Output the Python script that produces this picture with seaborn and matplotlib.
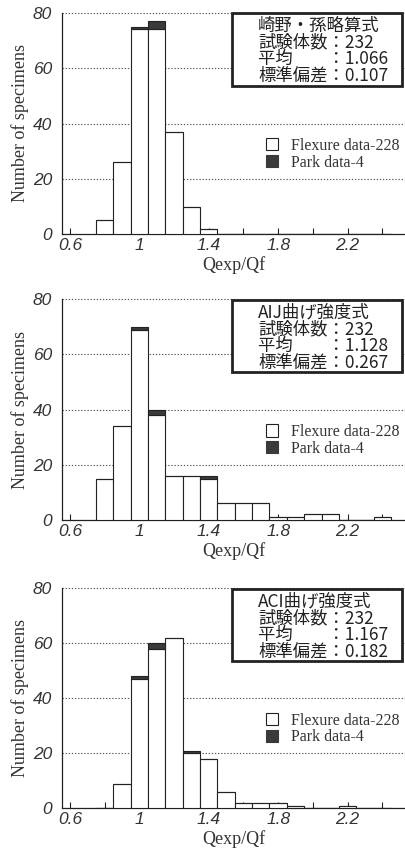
import numpy as np
import pandas as pd
import matplotlib
matplotlib.use('Agg')
import matplotlib.pyplot as plt
import seaborn as sns
from matplotlib.patches import Patch, Rectangle
from matplotlib.ticker import FixedLocator

# bin centres (Qexp/Qf), width 0.1
bin_centers = [0.8, 0.9, 1.0, 1.1, 1.2, 1.3, 1.4, 1.5, 1.6, 1.7, 1.8, 1.9, 2.0, 2.1, 2.2, 2.3, 2.4]

# panel 1: 崎野・孫略算式
flex_1 = [5, 26, 74, 74, 37, 10, 2, 0, 0, 0, 0, 0, 0, 0, 0, 0, 0]
park_1 = [0, 0, 1, 3, 0, 0, 0, 0, 0, 0, 0, 0, 0, 0, 0, 0, 0]
# panel 2: AIJ曲げ強度式
flex_2 = [15, 34, 69, 38, 16, 16, 15, 6, 6, 6, 1, 1, 2, 2, 0, 0, 1]
park_2 = [0, 0, 1, 2, 0, 0, 1, 0, 0, 0, 0, 0, 0, 0, 0, 0, 0]
# panel 3: ACI曲げ強度式
flex_3 = [0, 9, 47, 58, 62, 20, 18, 6, 2, 2, 2, 1, 0, 0, 1, 0, 0]
park_3 = [0, 0, 1, 2, 0, 1, 0, 0, 0, 0, 0, 0, 0, 0, 0, 0, 0]

titles = ['崎野・孫略算式', 'AIJ曲げ強度式', 'ACI曲げ強度式']
n_specimens = [232, 232, 232]
means = ['1.066', '1.128', '1.167']
stds = ['0.107', '0.267', '0.182']
legend_labels = ['Flexure data-228', 'Park data-4']

sns.set_style('ticks')
plt.rcParams['font.family'] = ['Liberation Serif', 'DejaVu Serif']

INK = '#222222'
DARK = '#3a3a3a'
SERIF = 'Liberation Serif'
TICKFONT = dict(family='Liberation Sans', style='italic', size=12.5)
CJK = ['Noto Sans CJK JP', 'DejaVu Sans']

fig = plt.figure(figsize=(4.06, 8.48), dpi=100)
W, H = 406, 848
# (top px of y=80, bottom px of y=0)
panels_px = [(12.7, 234.3), (299.3, 520.0), (588.3, 808.3)]
left_px = 62

edges = [round(0.75 + 0.1 * k, 2) for k in range(len(bin_centers) + 1)]

for i, (flex, park) in enumerate([(flex_1, park_1), (flex_2, park_2), (flex_3, park_3)]):
    top, bot = panels_px[i]
    ax = fig.add_axes([left_px / W, 1 - bot / H, (W - left_px) / W, (bot - top) / H])

    df = pd.DataFrame({
        'q': bin_centers * 2,
        'count': flex + park,
        'group': [legend_labels[0]] * len(bin_centers) + [legend_labels[1]] * len(bin_centers),
    })
    sns.histplot(data=df, x='q', weights='count', hue='group',
                 hue_order=[legend_labels[1], legend_labels[0]],
                 multiple='stack', bins=edges,
                 palette={legend_labels[0]: 'white', legend_labels[1]: DARK},
                 edgecolor=INK, linewidth=0.8, alpha=1, legend=False, ax=ax, zorder=3)

    ax.set_xlim(0.554, 2.537)
    ax.set_ylim(0, 80)
    ax.xaxis.set_major_locator(FixedLocator([0.6, 1.0, 1.4, 1.8, 2.2]))
    ax.xaxis.set_minor_locator(FixedLocator([0.8, 1.2, 1.6, 2.0, 2.4]))
    ax.set_xticklabels(['0.6', '1', '1.4', '1.8', '2.2'], **TICKFONT)
    ax.yaxis.set_major_locator(FixedLocator([0, 20, 40, 60, 80]))
    ax.set_yticklabels(['0', '20', '40', '60', '80'], **TICKFONT)
    ax.tick_params(axis='x', which='both', direction='in', length=4, width=0.8,
                   color=INK, pad=3, labelcolor='#333333')
    ax.tick_params(axis='y', which='both', length=0, pad=7, labelcolor='#333333')

    for s in ['top', 'right']:
        ax.spines[s].set_visible(False)
    for s in ['left', 'bottom']:
        ax.spines[s].set_color(INK)
        ax.spines[s].set_linewidth(0.9)

    for yv in [20, 40, 60, 80]:
        ax.axhline(yv, color='#555555', lw=0.8, ls=(0, (1.2, 1.6)), zorder=1, clip_on=False)

    ax.set_xlabel('Qexp/Qf', family=SERIF, size=13, color='#333333', labelpad=2)
    ax.set_ylabel('Number of specimens', family=SERIF, size=13, color='#333333', labelpad=3)

    # info box
    box = Rectangle((0.493, 0.669), 0.495, 0.330, transform=ax.transAxes,
                    facecolor='white', edgecolor=INK, lw=2.0, zorder=5, clip_on=False)
    ax.add_patch(box)
    info = '\n'.join([titles[i],
                      f'試験体数：{n_specimens[i]}',
                      f'平均　　：{means[i]}',
                      f'標準偏差：{stds[i]}'])
    ax.text(0.570, 0.980, info, transform=ax.transAxes, family=CJK, size=12.5,
            color='#222222', va='top', ha='left', linespacing=0.90, zorder=6)

    handles = [Patch(facecolor='white', edgecolor=INK, lw=0.8),
               Patch(facecolor=DARK, edgecolor=DARK, lw=0.8)]
    leg = ax.legend(handles=handles, labels=legend_labels, loc='upper left',
                    bbox_to_anchor=(0.592, 0.435), frameon=False,
                    prop=dict(family=SERIF, size=11.5), handlelength=0.8,
                    handleheight=0.8, handletextpad=0.8, labelspacing=0.05,
                    borderpad=0, borderaxespad=0)
    for t in leg.get_texts():
        t.set_color('#333333')

fig.savefig('out.png', dpi=100)
